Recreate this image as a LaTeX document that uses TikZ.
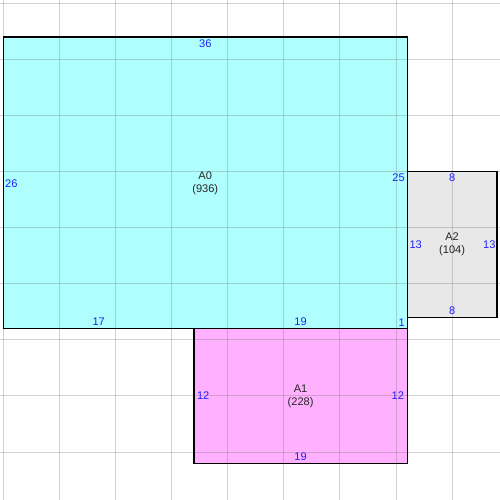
\documentclass[tikz,border=0pt]{standalone}
\usepackage{fontspec}
\setmainfont{Liberation Sans}
\definecolor{roomcyan}{RGB}{176,255,255}
\definecolor{roompink}{RGB}{255,176,255}
\definecolor{roomgray}{RGB}{232,232,232}
\definecolor{gridgray}{RGB}{118,118,118}
\definecolor{lenblue}{RGB}{32,32,255}
\begin{document}
\begin{tikzpicture}[x=8.415pt,y=-8.415pt,
  font=\fontsize{8.3}{9.75}\selectfont,
  gridline/.style={draw=gridgray,opacity=0.33,line width=0.75pt},
  roomedge/.style={draw=black,line width=0.9pt},
  lenlabel/.style={text=lenblue,inner sep=0pt},
  roomlabel/.style={text=black!85,align=center,inner sep=0pt}]
\useasboundingbox[fill=white] (-0.294,-0.294) rectangle (44.27,44.27);
% room fills
\fill[roomcyan] (0,3) rectangle (36,29);
\fill[roompink] (17,29) rectangle (36,41);
\fill[roomgray] (36,15) rectangle (44,28);
% grid
\foreach \k in {0,5,...,40} {
  \draw[gridline] (\k,-0.294) -- (\k,44.27);
  \draw[gridline] (-0.294,\k) -- (44.27,\k);
}
% room outlines
\draw[roomedge] (0,3) rectangle (36,29);
\draw[roomedge] (17,29) rectangle (36,41);
\draw[roomedge] (36,15) rectangle (44,28);
% room names
\node[roomlabel] (a0) at (18,16.05) {A0\\(936)};
\node[roomlabel] (a1) at (26.5,35.0) {A1\\(228)};
\node[roomlabel] (a2) at (40,21.5) {A2\\(104)};
% A0 lengths
\node[lenlabel] (a0top) at (18,3.63) {36};
\node[lenlabel,anchor=west] (a0left) at (0.15,16.05) {26};
\node[lenlabel,anchor=east] (a0right) at (35.8,15.5) {25};
\node[lenlabel,anchor=east] (a0rightb) at (35.8,28.5) {1};
\node[lenlabel] (a0bota) at (8.5,28.4) {17};
\node[lenlabel] (a0botb) at (26.5,28.4) {19};
% A1 lengths
\node[lenlabel,anchor=west] (a1left) at (17.24,35.0) {12};
\node[lenlabel,anchor=east] (a1right) at (35.74,35.0) {12};
\node[lenlabel] (a1bot) at (26.5,40.44) {19};
% A2 lengths
\node[lenlabel] (a2top) at (40,15.57) {8};
\node[lenlabel] (a2bot) at (40,27.42) {8};
\node[lenlabel,anchor=west] (a2left) at (36.18,21.5) {13};
\node[lenlabel,anchor=east] (a2right) at (43.89,21.5) {13};
\end{tikzpicture}
\end{document}
